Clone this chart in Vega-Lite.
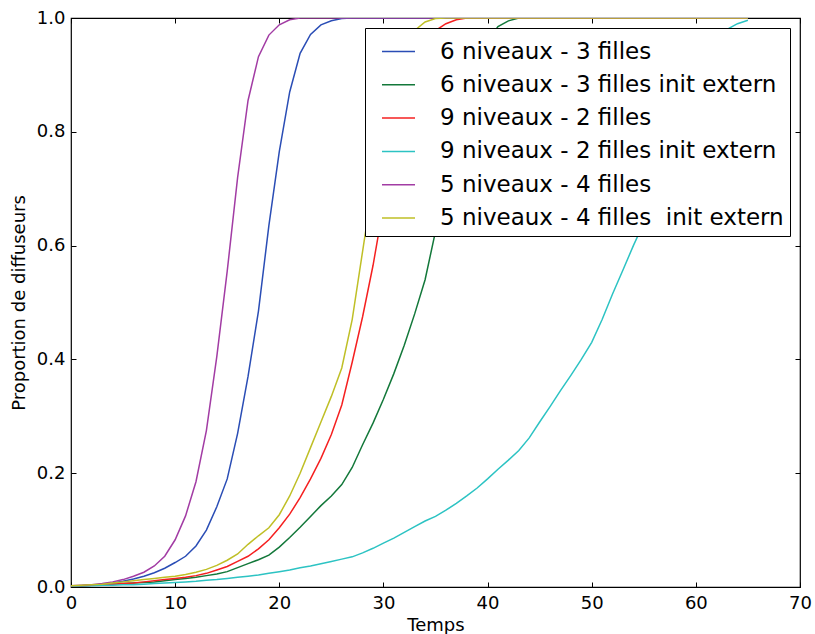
{
  "$schema": "https://vega.github.io/schema/vega-lite/v6.json",
  "width": 729,
  "height": 569,
  "autosize": "none",
  "padding": {"left": 71, "top": 18, "right": 15, "bottom": 47},
  "background": "white",
  "config": {
    "font": "DejaVu Sans",
    "view": {"stroke": "#000000", "strokeWidth": 1.2},
    "axis": {"grid": false, "domain": false, "tickColor": "#000000", "labelColor": "#000000", "titleColor": "#000000", "labelFont": "DejaVu Sans", "titleFont": "DejaVu Sans", "labelFontSize": 18, "titleFontSize": 18, "titleFontWeight": "normal", "tickSize": -5, "tickWidth": 1, "labelFlush": false}
  },
  "datasets": {
    "d": [
      {"t":0,"v":0.002,"s":"6 niveaux - 3 filles"},{"t":1,"v":0.002,"s":"6 niveaux - 3 filles"},{"t":2,"v":0.003,"s":"6 niveaux - 3 filles"},{"t":3,"v":0.005,"s":"6 niveaux - 3 filles"},{"t":4,"v":0.007,"s":"6 niveaux - 3 filles"},{"t":5,"v":0.01,"s":"6 niveaux - 3 filles"},{"t":6,"v":0.014,"s":"6 niveaux - 3 filles"},{"t":7,"v":0.019,"s":"6 niveaux - 3 filles"},{"t":8,"v":0.025,"s":"6 niveaux - 3 filles"},{"t":9,"v":0.033,"s":"6 niveaux - 3 filles"},{"t":10,"v":0.043,"s":"6 niveaux - 3 filles"},{"t":11,"v":0.054,"s":"6 niveaux - 3 filles"},{"t":12,"v":0.072,"s":"6 niveaux - 3 filles"},{"t":13,"v":0.1,"s":"6 niveaux - 3 filles"},{"t":14,"v":0.141,"s":"6 niveaux - 3 filles"},{"t":15,"v":0.19,"s":"6 niveaux - 3 filles"},{"t":16,"v":0.27,"s":"6 niveaux - 3 filles"},{"t":17,"v":0.37,"s":"6 niveaux - 3 filles"},{"t":18,"v":0.485,"s":"6 niveaux - 3 filles"},{"t":19,"v":0.635,"s":"6 niveaux - 3 filles"},{"t":20,"v":0.765,"s":"6 niveaux - 3 filles"},{"t":21,"v":0.87,"s":"6 niveaux - 3 filles"},{"t":22,"v":0.938,"s":"6 niveaux - 3 filles"},{"t":23,"v":0.971,"s":"6 niveaux - 3 filles"},{"t":24,"v":0.988,"s":"6 niveaux - 3 filles"},{"t":25,"v":0.995,"s":"6 niveaux - 3 filles"},{"t":26,"v":0.999,"s":"6 niveaux - 3 filles"},{"t":27,"v":1.0,"s":"6 niveaux - 3 filles"},{"t":65,"v":1.0,"s":"6 niveaux - 3 filles"},

      {"t":0,"v":0.002,"s":"6 niveaux - 3 filles init extern"},{"t":1,"v":0.002,"s":"6 niveaux - 3 filles init extern"},{"t":2,"v":0.003,"s":"6 niveaux - 3 filles init extern"},{"t":3,"v":0.004,"s":"6 niveaux - 3 filles init extern"},{"t":4,"v":0.005,"s":"6 niveaux - 3 filles init extern"},{"t":5,"v":0.006,"s":"6 niveaux - 3 filles init extern"},{"t":6,"v":0.007,"s":"6 niveaux - 3 filles init extern"},{"t":7,"v":0.008,"s":"6 niveaux - 3 filles init extern"},{"t":8,"v":0.009,"s":"6 niveaux - 3 filles init extern"},{"t":9,"v":0.011,"s":"6 niveaux - 3 filles init extern"},{"t":10,"v":0.013,"s":"6 niveaux - 3 filles init extern"},{"t":11,"v":0.015,"s":"6 niveaux - 3 filles init extern"},{"t":12,"v":0.017,"s":"6 niveaux - 3 filles init extern"},{"t":13,"v":0.02,"s":"6 niveaux - 3 filles init extern"},{"t":14,"v":0.023,"s":"6 niveaux - 3 filles init extern"},{"t":15,"v":0.027,"s":"6 niveaux - 3 filles init extern"},{"t":16,"v":0.034,"s":"6 niveaux - 3 filles init extern"},{"t":17,"v":0.041,"s":"6 niveaux - 3 filles init extern"},{"t":18,"v":0.048,"s":"6 niveaux - 3 filles init extern"},{"t":19,"v":0.056,"s":"6 niveaux - 3 filles init extern"},{"t":20,"v":0.07,"s":"6 niveaux - 3 filles init extern"},{"t":21,"v":0.087,"s":"6 niveaux - 3 filles init extern"},{"t":22,"v":0.105,"s":"6 niveaux - 3 filles init extern"},{"t":23,"v":0.124,"s":"6 niveaux - 3 filles init extern"},{"t":24,"v":0.143,"s":"6 niveaux - 3 filles init extern"},{"t":25,"v":0.16,"s":"6 niveaux - 3 filles init extern"},{"t":26,"v":0.18,"s":"6 niveaux - 3 filles init extern"},{"t":27,"v":0.21,"s":"6 niveaux - 3 filles init extern"},{"t":28,"v":0.25,"s":"6 niveaux - 3 filles init extern"},{"t":29,"v":0.288,"s":"6 niveaux - 3 filles init extern"},{"t":30,"v":0.33,"s":"6 niveaux - 3 filles init extern"},{"t":31,"v":0.375,"s":"6 niveaux - 3 filles init extern"},{"t":32,"v":0.425,"s":"6 niveaux - 3 filles init extern"},{"t":33,"v":0.48,"s":"6 niveaux - 3 filles init extern"},{"t":34,"v":0.54,"s":"6 niveaux - 3 filles init extern"},{"t":35,"v":0.625,"s":"6 niveaux - 3 filles init extern"},{"t":36,"v":0.71,"s":"6 niveaux - 3 filles init extern"},{"t":37,"v":0.79,"s":"6 niveaux - 3 filles init extern"},{"t":38,"v":0.86,"s":"6 niveaux - 3 filles init extern"},{"t":39,"v":0.92,"s":"6 niveaux - 3 filles init extern"},{"t":40,"v":0.96,"s":"6 niveaux - 3 filles init extern"},{"t":41,"v":0.985,"s":"6 niveaux - 3 filles init extern"},{"t":42,"v":0.995,"s":"6 niveaux - 3 filles init extern"},{"t":43,"v":1.0,"s":"6 niveaux - 3 filles init extern"},{"t":65,"v":1.0,"s":"6 niveaux - 3 filles init extern"},

      {"t":0,"v":0.002,"s":"9 niveaux - 2 filles"},{"t":1,"v":0.002,"s":"9 niveaux - 2 filles"},{"t":2,"v":0.003,"s":"9 niveaux - 2 filles"},{"t":3,"v":0.004,"s":"9 niveaux - 2 filles"},{"t":4,"v":0.005,"s":"9 niveaux - 2 filles"},{"t":5,"v":0.006,"s":"9 niveaux - 2 filles"},{"t":6,"v":0.007,"s":"9 niveaux - 2 filles"},{"t":7,"v":0.009,"s":"9 niveaux - 2 filles"},{"t":8,"v":0.011,"s":"9 niveaux - 2 filles"},{"t":9,"v":0.013,"s":"9 niveaux - 2 filles"},{"t":10,"v":0.015,"s":"9 niveaux - 2 filles"},{"t":11,"v":0.017,"s":"9 niveaux - 2 filles"},{"t":12,"v":0.02,"s":"9 niveaux - 2 filles"},{"t":13,"v":0.024,"s":"9 niveaux - 2 filles"},{"t":14,"v":0.03,"s":"9 niveaux - 2 filles"},{"t":15,"v":0.036,"s":"9 niveaux - 2 filles"},{"t":16,"v":0.045,"s":"9 niveaux - 2 filles"},{"t":17,"v":0.054,"s":"9 niveaux - 2 filles"},{"t":18,"v":0.067,"s":"9 niveaux - 2 filles"},{"t":19,"v":0.083,"s":"9 niveaux - 2 filles"},{"t":20,"v":0.104,"s":"9 niveaux - 2 filles"},{"t":21,"v":0.128,"s":"9 niveaux - 2 filles"},{"t":22,"v":0.157,"s":"9 niveaux - 2 filles"},{"t":23,"v":0.19,"s":"9 niveaux - 2 filles"},{"t":24,"v":0.226,"s":"9 niveaux - 2 filles"},{"t":25,"v":0.268,"s":"9 niveaux - 2 filles"},{"t":26,"v":0.32,"s":"9 niveaux - 2 filles"},{"t":27,"v":0.395,"s":"9 niveaux - 2 filles"},{"t":28,"v":0.475,"s":"9 niveaux - 2 filles"},{"t":29,"v":0.565,"s":"9 niveaux - 2 filles"},{"t":30,"v":0.67,"s":"9 niveaux - 2 filles"},{"t":31,"v":0.76,"s":"9 niveaux - 2 filles"},{"t":32,"v":0.84,"s":"9 niveaux - 2 filles"},{"t":33,"v":0.9,"s":"9 niveaux - 2 filles"},{"t":34,"v":0.95,"s":"9 niveaux - 2 filles"},{"t":35,"v":0.978,"s":"9 niveaux - 2 filles"},{"t":36,"v":0.99,"s":"9 niveaux - 2 filles"},{"t":37,"v":0.997,"s":"9 niveaux - 2 filles"},{"t":38,"v":1.0,"s":"9 niveaux - 2 filles"},{"t":65,"v":1.0,"s":"9 niveaux - 2 filles"},

      {"t":0,"v":0.001,"s":"9 niveaux - 2 filles init extern"},{"t":1,"v":0.002,"s":"9 niveaux - 2 filles init extern"},{"t":2,"v":0.002,"s":"9 niveaux - 2 filles init extern"},{"t":3,"v":0.003,"s":"9 niveaux - 2 filles init extern"},{"t":4,"v":0.003,"s":"9 niveaux - 2 filles init extern"},{"t":5,"v":0.004,"s":"9 niveaux - 2 filles init extern"},{"t":6,"v":0.004,"s":"9 niveaux - 2 filles init extern"},{"t":7,"v":0.005,"s":"9 niveaux - 2 filles init extern"},{"t":8,"v":0.006,"s":"9 niveaux - 2 filles init extern"},{"t":9,"v":0.007,"s":"9 niveaux - 2 filles init extern"},{"t":10,"v":0.008,"s":"9 niveaux - 2 filles init extern"},{"t":11,"v":0.009,"s":"9 niveaux - 2 filles init extern"},{"t":12,"v":0.01,"s":"9 niveaux - 2 filles init extern"},{"t":13,"v":0.012,"s":"9 niveaux - 2 filles init extern"},{"t":14,"v":0.013,"s":"9 niveaux - 2 filles init extern"},{"t":15,"v":0.015,"s":"9 niveaux - 2 filles init extern"},{"t":16,"v":0.017,"s":"9 niveaux - 2 filles init extern"},{"t":17,"v":0.019,"s":"9 niveaux - 2 filles init extern"},{"t":18,"v":0.021,"s":"9 niveaux - 2 filles init extern"},{"t":19,"v":0.024,"s":"9 niveaux - 2 filles init extern"},{"t":20,"v":0.027,"s":"9 niveaux - 2 filles init extern"},{"t":21,"v":0.03,"s":"9 niveaux - 2 filles init extern"},{"t":22,"v":0.034,"s":"9 niveaux - 2 filles init extern"},{"t":23,"v":0.037,"s":"9 niveaux - 2 filles init extern"},{"t":24,"v":0.041,"s":"9 niveaux - 2 filles init extern"},{"t":25,"v":0.045,"s":"9 niveaux - 2 filles init extern"},{"t":26,"v":0.049,"s":"9 niveaux - 2 filles init extern"},{"t":27,"v":0.053,"s":"9 niveaux - 2 filles init extern"},{"t":28,"v":0.06,"s":"9 niveaux - 2 filles init extern"},{"t":29,"v":0.068,"s":"9 niveaux - 2 filles init extern"},{"t":30,"v":0.077,"s":"9 niveaux - 2 filles init extern"},{"t":31,"v":0.086,"s":"9 niveaux - 2 filles init extern"},{"t":32,"v":0.096,"s":"9 niveaux - 2 filles init extern"},{"t":33,"v":0.106,"s":"9 niveaux - 2 filles init extern"},{"t":34,"v":0.116,"s":"9 niveaux - 2 filles init extern"},{"t":35,"v":0.124,"s":"9 niveaux - 2 filles init extern"},{"t":36,"v":0.135,"s":"9 niveaux - 2 filles init extern"},{"t":37,"v":0.147,"s":"9 niveaux - 2 filles init extern"},{"t":38,"v":0.16,"s":"9 niveaux - 2 filles init extern"},{"t":39,"v":0.174,"s":"9 niveaux - 2 filles init extern"},{"t":40,"v":0.19,"s":"9 niveaux - 2 filles init extern"},{"t":41,"v":0.207,"s":"9 niveaux - 2 filles init extern"},{"t":42,"v":0.223,"s":"9 niveaux - 2 filles init extern"},{"t":43,"v":0.24,"s":"9 niveaux - 2 filles init extern"},{"t":44,"v":0.262,"s":"9 niveaux - 2 filles init extern"},{"t":45,"v":0.29,"s":"9 niveaux - 2 filles init extern"},{"t":46,"v":0.317,"s":"9 niveaux - 2 filles init extern"},{"t":47,"v":0.345,"s":"9 niveaux - 2 filles init extern"},{"t":48,"v":0.372,"s":"9 niveaux - 2 filles init extern"},{"t":49,"v":0.4,"s":"9 niveaux - 2 filles init extern"},{"t":50,"v":0.43,"s":"9 niveaux - 2 filles init extern"},{"t":51,"v":0.47,"s":"9 niveaux - 2 filles init extern"},{"t":52,"v":0.515,"s":"9 niveaux - 2 filles init extern"},{"t":53,"v":0.557,"s":"9 niveaux - 2 filles init extern"},{"t":54,"v":0.6,"s":"9 niveaux - 2 filles init extern"},{"t":55,"v":0.64,"s":"9 niveaux - 2 filles init extern"},{"t":56,"v":0.69,"s":"9 niveaux - 2 filles init extern"},{"t":57,"v":0.735,"s":"9 niveaux - 2 filles init extern"},{"t":58,"v":0.78,"s":"9 niveaux - 2 filles init extern"},{"t":59,"v":0.83,"s":"9 niveaux - 2 filles init extern"},{"t":60,"v":0.88,"s":"9 niveaux - 2 filles init extern"},{"t":61,"v":0.925,"s":"9 niveaux - 2 filles init extern"},{"t":62,"v":0.96,"s":"9 niveaux - 2 filles init extern"},{"t":63,"v":0.98,"s":"9 niveaux - 2 filles init extern"},{"t":64,"v":0.99,"s":"9 niveaux - 2 filles init extern"},{"t":65,"v":0.996,"s":"9 niveaux - 2 filles init extern"},

      {"t":0,"v":0.002,"s":"5 niveaux - 4 filles"},{"t":1,"v":0.003,"s":"5 niveaux - 4 filles"},{"t":2,"v":0.004,"s":"5 niveaux - 4 filles"},{"t":3,"v":0.006,"s":"5 niveaux - 4 filles"},{"t":4,"v":0.009,"s":"5 niveaux - 4 filles"},{"t":5,"v":0.013,"s":"5 niveaux - 4 filles"},{"t":6,"v":0.019,"s":"5 niveaux - 4 filles"},{"t":7,"v":0.026,"s":"5 niveaux - 4 filles"},{"t":8,"v":0.037,"s":"5 niveaux - 4 filles"},{"t":9,"v":0.054,"s":"5 niveaux - 4 filles"},{"t":10,"v":0.083,"s":"5 niveaux - 4 filles"},{"t":11,"v":0.125,"s":"5 niveaux - 4 filles"},{"t":12,"v":0.185,"s":"5 niveaux - 4 filles"},{"t":13,"v":0.275,"s":"5 niveaux - 4 filles"},{"t":14,"v":0.405,"s":"5 niveaux - 4 filles"},{"t":15,"v":0.555,"s":"5 niveaux - 4 filles"},{"t":16,"v":0.72,"s":"5 niveaux - 4 filles"},{"t":17,"v":0.855,"s":"5 niveaux - 4 filles"},{"t":18,"v":0.932,"s":"5 niveaux - 4 filles"},{"t":19,"v":0.97,"s":"5 niveaux - 4 filles"},{"t":20,"v":0.988,"s":"5 niveaux - 4 filles"},{"t":21,"v":0.997,"s":"5 niveaux - 4 filles"},{"t":22,"v":1.0,"s":"5 niveaux - 4 filles"},{"t":65,"v":1.0,"s":"5 niveaux - 4 filles"},

      {"t":0,"v":0.002,"s":"5 niveaux - 4 filles\u00a0 init extern"},{"t":1,"v":0.003,"s":"5 niveaux - 4 filles\u00a0 init extern"},{"t":2,"v":0.004,"s":"5 niveaux - 4 filles\u00a0 init extern"},{"t":3,"v":0.005,"s":"5 niveaux - 4 filles\u00a0 init extern"},{"t":4,"v":0.007,"s":"5 niveaux - 4 filles\u00a0 init extern"},{"t":5,"v":0.009,"s":"5 niveaux - 4 filles\u00a0 init extern"},{"t":6,"v":0.011,"s":"5 niveaux - 4 filles\u00a0 init extern"},{"t":7,"v":0.013,"s":"5 niveaux - 4 filles\u00a0 init extern"},{"t":8,"v":0.015,"s":"5 niveaux - 4 filles\u00a0 init extern"},{"t":9,"v":0.017,"s":"5 niveaux - 4 filles\u00a0 init extern"},{"t":10,"v":0.019,"s":"5 niveaux - 4 filles\u00a0 init extern"},{"t":11,"v":0.022,"s":"5 niveaux - 4 filles\u00a0 init extern"},{"t":12,"v":0.026,"s":"5 niveaux - 4 filles\u00a0 init extern"},{"t":13,"v":0.031,"s":"5 niveaux - 4 filles\u00a0 init extern"},{"t":14,"v":0.038,"s":"5 niveaux - 4 filles\u00a0 init extern"},{"t":15,"v":0.047,"s":"5 niveaux - 4 filles\u00a0 init extern"},{"t":16,"v":0.058,"s":"5 niveaux - 4 filles\u00a0 init extern"},{"t":17,"v":0.075,"s":"5 niveaux - 4 filles\u00a0 init extern"},{"t":18,"v":0.09,"s":"5 niveaux - 4 filles\u00a0 init extern"},{"t":19,"v":0.104,"s":"5 niveaux - 4 filles\u00a0 init extern"},{"t":20,"v":0.127,"s":"5 niveaux - 4 filles\u00a0 init extern"},{"t":21,"v":0.16,"s":"5 niveaux - 4 filles\u00a0 init extern"},{"t":22,"v":0.2,"s":"5 niveaux - 4 filles\u00a0 init extern"},{"t":23,"v":0.245,"s":"5 niveaux - 4 filles\u00a0 init extern"},{"t":24,"v":0.29,"s":"5 niveaux - 4 filles\u00a0 init extern"},{"t":25,"v":0.335,"s":"5 niveaux - 4 filles\u00a0 init extern"},{"t":26,"v":0.385,"s":"5 niveaux - 4 filles\u00a0 init extern"},{"t":27,"v":0.47,"s":"5 niveaux - 4 filles\u00a0 init extern"},{"t":28,"v":0.59,"s":"5 niveaux - 4 filles\u00a0 init extern"},{"t":29,"v":0.71,"s":"5 niveaux - 4 filles\u00a0 init extern"},{"t":30,"v":0.81,"s":"5 niveaux - 4 filles\u00a0 init extern"},{"t":31,"v":0.89,"s":"5 niveaux - 4 filles\u00a0 init extern"},{"t":32,"v":0.945,"s":"5 niveaux - 4 filles\u00a0 init extern"},{"t":33,"v":0.978,"s":"5 niveaux - 4 filles\u00a0 init extern"},{"t":34,"v":0.993,"s":"5 niveaux - 4 filles\u00a0 init extern"},{"t":35,"v":0.999,"s":"5 niveaux - 4 filles\u00a0 init extern"},{"t":36,"v":1.0,"s":"5 niveaux - 4 filles\u00a0 init extern"},{"t":65,"v":1.0,"s":"5 niveaux - 4 filles\u00a0 init extern"}
    ]
  },
  "data": {"name": "d"},
  "layer": [
    {
      "mark": {"type": "line", "strokeWidth": 1.5, "clip": true},
      "encoding": {
        "x": {"field": "t", "type": "quantitative", "scale": {"domain": [0, 70], "nice": false, "zero": false}, "axis": {"orient": "bottom", "title": "Temps", "values": [0, 10, 20, 30, 40, 50, 60, 70], "format": "d", "labelPadding": 12, "titlePadding": 4}},
        "y": {"field": "v", "type": "quantitative", "scale": {"domain": [0, 1], "nice": false}, "axis": {"orient": "left", "title": "Proportion de diffuseurs", "values": [0, 0.2, 0.4, 0.6, 0.8, 1.0], "format": ".1f", "labelPadding": 11, "titlePadding": 8}},
        "color": {
          "field": "s", "type": "nominal",
          "scale": {
            "domain": ["6 niveaux - 3 filles", "6 niveaux - 3 filles init extern", "9 niveaux - 2 filles", "9 niveaux - 2 filles init extern", "5 niveaux - 4 filles", "5 niveaux - 4 filles\u00a0 init extern"],
            "range": ["#2a4db5", "#13783a", "#f52020", "#2cc3c3", "#a23ca4", "#bfbf26"]
          },
          "legend": {
            "title": null, "orient": "top-right", "offset": 10,
            "strokeColor": "#000000", "fillColor": "#ffffff", "padding": 6,
            "symbolType": "stroke", "symbolSize": 1089, "symbolStrokeWidth": 1.5, "symbolOffset": 10,
            "labelFont": "DejaVu Sans", "labelFontSize": 23, "labelColor": "#000000", "labelOffset": 24, "labelLimit": 500,
            "rowPadding": 3.3
          }
        }
      }
    },
    {
      "mark": {"type": "line", "opacity": 0},
      "encoding": {
        "x": {"field": "t", "type": "quantitative", "axis": {"orient": "top", "title": null, "labels": false, "values": [0, 10, 20, 30, 40, 50, 60, 70]}},
        "y": {"field": "v", "type": "quantitative", "axis": {"orient": "right", "title": null, "labels": false, "values": [0, 0.2, 0.4, 0.6, 0.8, 1.0]}},
        "detail": {"field": "s", "type": "nominal"}
      }
    }
  ],
  "resolve": {"axis": {"x": "independent", "y": "independent"}}
}
